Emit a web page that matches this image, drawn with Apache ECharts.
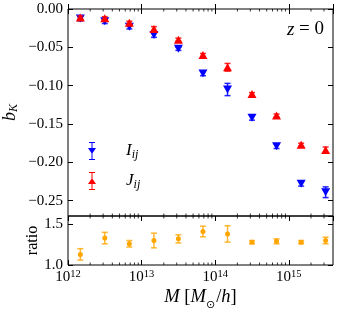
<!DOCTYPE html>
<html><head><meta charset="utf-8">
<script src="https://cdn.jsdelivr.net/npm/echarts@6/dist/echarts.min.js"></script>
<style>html,body{margin:0;padding:0;background:#fff}#c{width:337px;height:312px}</style>
</head><body><div id="c"></div>
<script>
// ---- data ----
const masses   = [1.47e12, 3.16e12, 6.81e12, 1.47e13, 3.16e13, 6.81e13, 1.47e14, 3.16e14, 6.81e14, 1.47e15, 3.16e15];
const bI       = [-0.0125, -0.016, -0.023, -0.034, -0.052, -0.084, -0.105, -0.142, -0.179, -0.228, -0.239];
const bIErr    = [0.003, 0.003, 0.003, 0.003, 0.002, 0.003, 0.008, 0.003, 0.003, 0.003, 0.007];
const bJ       = [-0.011, -0.012, -0.018, -0.026, -0.040, -0.060, -0.076, -0.111, -0.139, -0.177, -0.184];
const bJErr    = [0.002, 0.002, 0.002, 0.003, 0.002, 0.002, 0.005, 0.002, 0.002, 0.002, 0.004];
const ratio    = [1.13, 1.33, 1.26, 1.30, 1.32, 1.41, 1.38, 1.28, 1.29, 1.28, 1.30];
const ratioErr = [0.07, 0.07, 0.04, 0.09, 0.05, 0.065, 0.10, 0.02, 0.03, 0.02, 0.04];
const xDecades   = [12, 13, 14, 15];
const yTicksTop  = [0, -0.05, -0.10, -0.15, -0.20, -0.25];
const yTicksRat  = [1.0, 1.5];
const xMin = 1e12, xMax = Math.pow(10, 15.6);
const yTopMin = -0.27, yTopMax = 0, yRatMin = 1.0, yRatMax = 1.6;

const FONT = 'Liberation Serif';
const BLUE = '#0000ff', RED = '#ff0000', ORANGE = '#ffa500';

const minorVals = [];
for (let n = 12; n <= 15; n++) for (let k = 2; k <= 9; k++) { const v = k * Math.pow(10, n); if (v < xMax) minorVals.push([v]); }

function errData(xs, ys, es) { return xs.map((x, i) => [x, ys[i] - es[i], ys[i] + es[i]]); }
function errRender(color, cap, lw) {
  return function (params, api) {
    const x = api.value(0);
    const p1 = api.coord([x, api.value(1)]), p2 = api.coord([x, api.value(2)]);
    const st = { stroke: color, lineWidth: lw };
    return { type: 'group', children: [
      { type: 'line', shape: { x1: p1[0], y1: p1[1], x2: p2[0], y2: p2[1] }, style: st },
      { type: 'line', shape: { x1: p1[0] - cap, y1: p1[1], x2: p1[0] + cap, y2: p1[1] }, style: st },
      { type: 'line', shape: { x1: p2[0] - cap, y1: p2[1], x2: p2[0] + cap, y2: p2[1] }, style: st }
    ]};
  };
}
function minorRender(yLo, yHi) {
  return function (params, api) {
    const v = api.value(0);
    const a = api.coord([v, yHi]), b = api.coord([v, yLo]);
    const st = { stroke: '#000', lineWidth: 0.8 };
    return { type: 'group', children: [
      { type: 'line', shape: { x1: a[0], y1: a[1], x2: a[0], y2: a[1] + 2.5 }, style: st },
      { type: 'line', shape: { x1: b[0], y1: b[1], x2: b[0], y2: b[1] - 2.5 }, style: st }
    ]};
  };
}
const near = (v, arr) => arr.some(t => Math.abs(t - v) < 1e-6);
const fmtTop = v => near(v, yTicksTop) ? (Math.abs(v) < 1e-9 ? '0.00' : (v < 0 ? '\u2212' : '') + Math.abs(v).toFixed(2)) : '';
const fmtRat = v => near(v, yTicksRat) ? v.toFixed(1) : '';
const fmtX = v => { const l = Math.log10(v), e = Math.round(l); return (Math.abs(l - e) < 1e-6 && xDecades.includes(e)) ? '{b|10}{s|' + e + '}' : ''; };

const tick = (len) => ({ show: true, inside: true, length: len, lineStyle: { color: '#000', width: 1 } });
const baseX = (gi, pos, labels, extra) => Object.assign({
  type: 'log', logBase: 10, gridIndex: gi, position: pos, min: xMin, max: xMax,
  axisLine: { show: false }, axisTick: tick(5), splitLine: { show: false },
  axisLabel: labels ? {
    show: true, formatter: fmtX, margin: 4, showMaxLabel: false,
    rich: { b: { fontFamily: FONT, fontSize: 15, color: '#000', lineHeight: 16, verticalAlign: 'bottom' },
            s: { fontFamily: FONT, fontSize: 10.5, color: '#000', lineHeight: 12, verticalAlign: 'top', padding: [0, 0, 7, 0] } }
  } : { show: false }
}, extra || {});

const option = {
  animation: false,
  backgroundColor: '#fff',
  grid: [
    { left: 68, top: 9, width: 265, height: 207, show: true, borderColor: '#000', borderWidth: 1,
      backgroundColor: 'transparent', containLabel: false, outerBoundsMode: 'none' },
    { left: 68, top: 216, width: 265, height: 49, show: true, borderColor: '#000', borderWidth: 1,
      backgroundColor: 'transparent', containLabel: false, outerBoundsMode: 'none' }
  ],
  xAxis: [
    baseX(0, 'bottom', false),
    baseX(0, 'top', false),
    baseX(1, 'bottom', true, {
      name: '{i|M} [{i|M}{o|\u2299}/{i|h}]', nameLocation: 'middle', nameGap: 19,
      nameTextStyle: { fontFamily: FONT, fontSize: 18.5, color: '#000',
        rich: { i: { fontFamily: FONT, fontStyle: 'italic', fontSize: 18.5, color: '#000', lineHeight: 20 },
                o: { fontFamily: 'DejaVu Sans', fontSize: 11, color: '#000', lineHeight: 20, verticalAlign: 'bottom', padding: [0, 1, -3, 0] } } }
    }),
    baseX(1, 'top', false)
  ],
  yAxis: [
    { type: 'value', gridIndex: 0, position: 'left', min: yTopMin, max: yTopMax, splitNumber: 5,
      axisLine: { show: false }, axisTick: tick(5), splitLine: { show: false },
      axisLabel: { formatter: fmtTop, margin: 5, showMinLabel: false, fontFamily: FONT, fontSize: 15, color: '#000' },
      name: '{i|b}{s|K}', nameLocation: 'middle', nameGap: 48, nameMoveOverlap: false,
      nameTextStyle: { rich: { i: { fontFamily: FONT, fontStyle: 'italic', fontSize: 18, color: '#000', lineHeight: 20, verticalAlign: 'middle' },
                               s: { fontFamily: FONT, fontStyle: 'italic', fontSize: 12, color: '#000', lineHeight: 12, verticalAlign: 'bottom' } } } },
    { type: 'value', gridIndex: 0, position: 'right', min: yTopMin, max: yTopMax, splitNumber: 5,
      axisLine: { show: false }, axisTick: tick(5), splitLine: { show: false }, axisLabel: { show: false } },
    { type: 'value', gridIndex: 1, position: 'left', min: yRatMin, max: yRatMax, interval: 0.5,
      axisLine: { show: false }, axisTick: tick(5), splitLine: { show: false },
      axisLabel: { formatter: fmtRat, margin: 5, showMaxLabel: false, fontFamily: FONT, fontSize: 15, color: '#000' },
      name: 'ratio', nameLocation: 'middle', nameGap: 27, nameMoveOverlap: false,
      nameTextStyle: { fontFamily: FONT, fontSize: 16, color: '#000' } },
    { type: 'value', gridIndex: 1, position: 'right', min: yRatMin, max: yRatMax, interval: 0.5,
      axisLine: { show: false }, axisTick: tick(5), splitLine: { show: false }, axisLabel: { show: false } }
  ],
  legend: {
    left: 83, top: 137, orient: 'vertical', itemGap: 11, itemWidth: 10, itemHeight: 18,
    selectedMode: false,
    data: [
      { name: 'I', icon: 'path://M9 0H11V36H9Z M4 0H16V2H4Z M4 34H16V36H4Z M2 12H18L10 24Z' },
      { name: 'J', icon: 'path://M9 0H11V36H9Z M4 0H16V2H4Z M4 34H16V36H4Z M10 12L18 24H2Z' }
    ],
    formatter: n => '{g| }{m|' + n + '}{s|ij}',
    textStyle: { rich: {
      g: { width: 24, fontSize: 10, lineHeight: 20 },
      m: { fontFamily: FONT, fontStyle: 'italic', fontSize: 17, color: '#000', lineHeight: 20, verticalAlign: 'middle' },
      s: { fontFamily: FONT, fontStyle: 'italic', fontSize: 12, color: '#000', lineHeight: 12, verticalAlign: 'bottom' } } }
  },
  graphic: [
    { type: 'text', right: 13, top: 20, style: { text: '{i|z} = 0', fontFamily: FONT, fontSize: 19, fill: '#000',
      rich: { i: { fontFamily: FONT, fontStyle: 'italic', fontSize: 19, fill: '#000' } } } }
  ],
  series: [
    { type: 'custom', name: 'minorTop', xAxisIndex: 0, yAxisIndex: 0, data: minorVals.map(v => [v[0], -0.1]),
      renderItem: minorRender(yTopMin, yTopMax), silent: true, z: 1 },
    { type: 'custom', name: 'minorBot', xAxisIndex: 2, yAxisIndex: 2, data: minorVals.map(v => [v[0], 1.3]),
      renderItem: minorRender(yRatMin, yRatMax), silent: true, z: 1 },
    { type: 'custom', name: 'errI', xAxisIndex: 0, yAxisIndex: 0, data: errData(masses, bI, bIErr),
      encode: { x: 0, y: [1, 2] }, renderItem: errRender('rgba(0,0,255,0.85)', 3, 1.5), z: 2 },
    { type: 'scatter', name: 'I', xAxisIndex: 0, yAxisIndex: 0, data: masses.map((m, i) => [m, bI[i]]),
      symbol: 'triangle', symbolRotate: 180, symbolSize: [9, 8], itemStyle: { color: BLUE, opacity: 1 }, z: 3 },
    { type: 'custom', name: 'errJ', xAxisIndex: 0, yAxisIndex: 0, data: errData(masses, bJ, bJErr),
      encode: { x: 0, y: [1, 2] }, renderItem: errRender('rgba(255,0,0,0.85)', 3, 1.5), z: 4 },
    { type: 'scatter', name: 'J', xAxisIndex: 0, yAxisIndex: 0, data: masses.map((m, i) => [m, bJ[i]]),
      symbol: 'triangle', symbolSize: [9, 8], itemStyle: { color: RED, opacity: 1 }, z: 5 },
    { type: 'custom', name: 'errR', xAxisIndex: 2, yAxisIndex: 2, data: errData(masses, ratio, ratioErr),
      encode: { x: 0, y: [1, 2] }, renderItem: errRender('rgba(255,165,0,0.8)', 3, 1.5), z: 2 },
    { type: 'scatter', name: 'ratio', xAxisIndex: 2, yAxisIndex: 2, data: masses.map((m, i) => [m, ratio[i]]),
      symbol: 'circle', symbolSize: 5, itemStyle: { color: ORANGE, opacity: 1 }, z: 3 }
  ]
};
const chart = echarts.init(document.getElementById('c'), null, { renderer: 'canvas' });
chart.setOption(option);
</script></body></html>
